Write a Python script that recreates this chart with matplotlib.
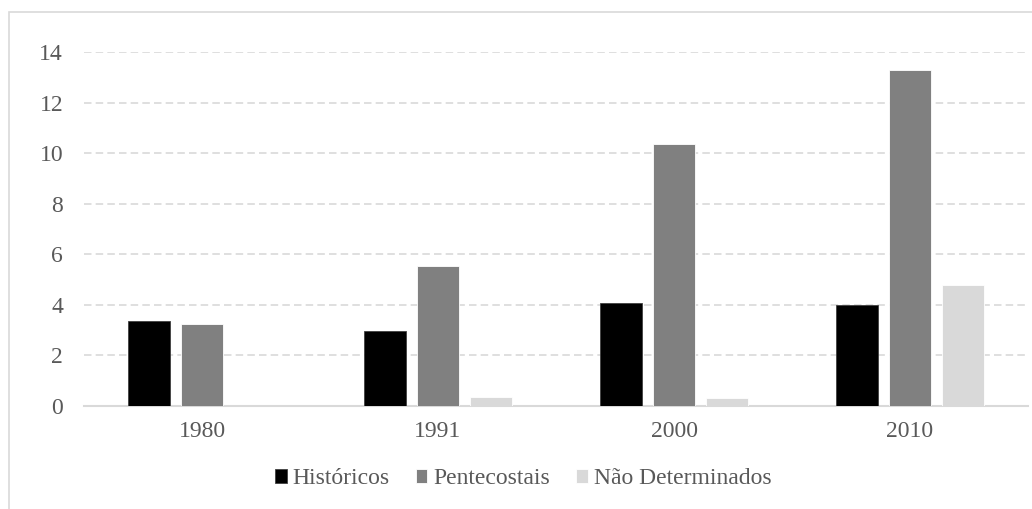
import matplotlib
matplotlib.use("Agg")
import matplotlib.pyplot as plt
import numpy as np
from matplotlib.patches import Rectangle

years = ["1980", "1991", "2000", "2010"]
series_names = ["Históricos", "Pentecostais", "Não Determinados"]
historicos = [3.36, 2.96, 4.07, 4.00]
pentecostais = [3.24, 5.53, 10.36, 13.28]
nao_determinados = [0.0, 0.36, 0.32, 4.78]
colors = ["#000000", "#808080", "#d9d9d9"]

W, H = 1032, 509
fig = plt.figure(figsize=(W/100, H/100), dpi=100)
plt.rcParams['font.family'] = ['Liberation Serif', 'DejaVu Serif']

left, right, bottom, top = 84/W, 1028/W, 1-406/H, 1-52/H
ax = fig.add_axes([left, bottom, right-left, top-bottom])

x = np.arange(len(years))
width = 0.174
offset = 0.2246
data = [historicos, pentecostais, nao_determinados]
handles = []
for i, (vals, c, name) in enumerate(zip(data, colors, series_names)):
    b = ax.bar(x + (i-1)*offset, vals, width, color=c, label=name, zorder=3,
               edgecolor="#ffffff" if i else "#404040", linewidth=0.6)
    handles.append(b)

ax.set_xlim(-0.5, len(years)-0.5)
ax.set_ylim(0, 14)
ax.set_yticks(np.arange(0, 15, 2))
ax.set_xticks(x)
ax.set_xticklabels(years)
ax.yaxis.grid(True, color="#d9d9d9", linestyle=(0, (4.5, 2.5)), linewidth=1.2, zorder=0)
ax.set_axisbelow(True)
for s in ["top", "right", "left"]:
    ax.spines[s].set_visible(False)
ax.spines["bottom"].set_color("#d9d9d9")
ax.spines["bottom"].set_linewidth(1.5)
ax.tick_params(axis="both", length=0, labelsize=17, colors="#595959")
ax.tick_params(axis="y", pad=15)
ax.tick_params(axis="x", pad=11)

leg = fig.legend(handles=handles, labels=series_names, loc="center",
                 bbox_to_anchor=(523/W, 1-479/H), ncol=3, frameon=False,
                 fontsize=17, handlelength=0.5, handleheight=0.55,
                 handletextpad=0.25, columnspacing=1.1)
for t in leg.get_texts():
    t.set_color("#595959")

fig.patches.append(Rectangle((9/W, -0.1), 1.2, 1-12/H+0.1, transform=fig.transFigure,
                             fill=False, edgecolor="#d9d9d9", linewidth=1.2))

fig.savefig("out.png", dpi=100)
